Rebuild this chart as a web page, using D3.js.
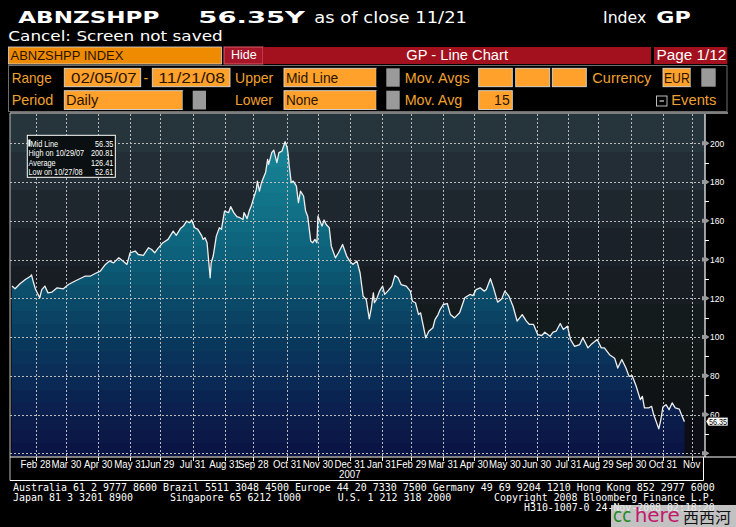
<!DOCTYPE html>
<html><head><meta charset="utf-8">
<script src="https://cdn.jsdelivr.net/npm/d3@7"></script>
<style>html,body{margin:0;padding:0;background:#000;}svg{display:block;}</style>
</head><body>
<svg id="c" width="736" height="527"></svg>
<script>
// ---------------- DATA ----------------
const dates = ["2007-02-05","2007-02-08","2007-02-13","2007-02-18","2007-02-23","2007-02-24","2007-02-26","2007-02-28","2007-03-04","2007-03-06","2007-03-09","2007-03-12","2007-03-16","2007-03-21","2007-03-27","2007-04-01","2007-04-07","2007-04-12","2007-04-17","2007-04-22","2007-04-27","2007-05-02","2007-05-07","2007-05-11","2007-05-15","2007-05-20","2007-05-24","2007-05-28","2007-05-31","2007-06-05","2007-06-08","2007-06-13","2007-06-18","2007-06-21","2007-06-24","2007-06-27","2007-07-02","2007-07-07","2007-07-12","2007-07-15","2007-07-19","2007-07-22","2007-07-25","2007-07-28","2007-07-30","2007-08-02","2007-08-05","2007-08-09","2007-08-10","2007-08-12","2007-08-14","2007-08-17","2007-08-18","2007-08-20","2007-08-23","2007-08-26","2007-08-28","2007-08-31","2007-09-04","2007-09-06","2007-09-09","2007-09-12","2007-09-15","2007-09-18","2007-09-19","2007-09-22","2007-09-24","2007-09-26","2007-09-28","2007-10-01","2007-10-02","2007-10-04","2007-10-06","2007-10-08","2007-10-10","2007-10-12","2007-10-13","2007-10-16","2007-10-18","2007-10-21","2007-10-23","2007-10-26","2007-10-29","2007-10-31","2007-11-01","2007-11-02","2007-11-04","2007-11-06","2007-11-09","2007-11-11","2007-11-13","2007-11-16","2007-11-18","2007-11-20","2007-11-23","2007-11-25","2007-11-27","2007-11-29","2007-11-30","2007-12-04","2007-12-06","2007-12-08","2007-12-11","2007-12-13","2007-12-17","2007-12-20","2007-12-24","2007-12-28","2007-12-31","2008-01-03","2008-01-07","2008-01-10","2008-01-13","2008-01-16","2008-01-19","2008-01-21","2008-01-23","2008-01-24","2008-01-26","2008-01-29","2008-02-01","2008-02-03","2008-02-06","2008-02-10","2008-02-13","2008-02-16","2008-02-19","2008-02-24","2008-02-28","2008-03-01","2008-03-04","2008-03-07","2008-03-09","2008-03-11","2008-03-14","2008-03-17","2008-03-21","2008-03-23","2008-03-26","2008-03-28","2008-03-31","2008-04-04","2008-04-07","2008-04-11","2008-04-16","2008-04-21","2008-04-26","2008-04-29","2008-05-02","2008-05-06","2008-05-10","2008-05-12","2008-05-16","2008-05-19","2008-05-23","2008-05-27","2008-05-30","2008-06-03","2008-06-07","2008-06-11","2008-06-16","2008-06-20","2008-06-23","2008-06-27","2008-07-01","2008-07-05","2008-07-08","2008-07-13","2008-07-16","2008-07-19","2008-07-23","2008-07-26","2008-07-30","2008-08-02","2008-08-06","2008-08-11","2008-08-14","2008-08-19","2008-08-22","2008-08-28","2008-09-01","2008-09-04","2008-09-09","2008-09-14","2008-09-17","2008-09-21","2008-09-25","2008-09-28","2008-10-01","2008-10-05","2008-10-09","2008-10-11","2008-10-13","2008-10-17","2008-10-20","2008-10-22","2008-10-27","2008-10-29","2008-10-31","2008-11-03","2008-11-06","2008-11-09","2008-11-12","2008-11-16","2008-11-18","2008-11-21"];
const values = [126.3,124.9,127.6,129.7,131.4,132.1,128.0,124.5,120.3,124.5,126.3,122.8,123.2,125.4,124.9,127.1,128.8,130.1,131.4,131.4,132.8,134.0,137.5,139.2,138.3,140.9,139.2,137.5,143.5,144.4,142.6,142.1,146.1,145.2,143.5,145.6,148.7,150.4,154.7,152.5,156.0,157.3,159.8,159.0,160.4,156.4,155.6,152.1,150.4,151.3,148.7,130.6,138.3,141.8,152.1,156.4,155.6,165.0,164.2,167.3,164.2,162.1,161.6,160.7,164.2,161.1,165.0,167.6,171.1,176.2,180.5,175.3,179.7,182.3,184.9,191.7,189.1,195.2,196.5,190.0,195.2,196.0,200.81,197.8,194.3,188.3,179.7,180.5,177.9,169.4,175.3,172.8,165.0,162.4,149.5,148.7,150.4,148.7,162.4,157.3,160.4,158.1,156.4,146.9,140.9,143.5,147.8,141.8,139.2,137.5,139.2,133.2,121.1,119.4,109.4,115.1,122.8,117.7,119.4,123.7,126.3,122.0,123.7,126.3,131.8,130.6,127.1,126.3,123.7,118.5,117.7,111.6,112.5,107.3,99.6,103.0,104.8,109.0,111.6,114.2,116.8,117.3,111.6,109.9,112.5,120.3,122.0,121.4,124.5,125.4,123.7,124.5,130.1,125.4,118.0,119.7,123.7,121.1,115.9,108.2,111.6,108.2,106.5,106.5,101.3,100.8,102.5,100.4,102.5,103.0,107.0,103.9,105.6,98.7,95.2,96.1,99.6,94.4,96.1,98.7,94.4,94.4,90.9,89.1,84.0,88.4,84.0,79.7,80.1,74.6,67.7,69.4,63.4,63.4,64.2,60.0,52.61,57.4,63.9,65.1,62.5,66.0,63.4,62.8,60.0,56.35];

const xTickDates = ["2007-02-28","2007-03-30","2007-04-30","2007-05-31","2007-06-29","2007-07-31","2007-08-31","2007-09-28","2007-10-31","2007-11-30","2007-12-31","2008-01-31","2008-02-29","2008-03-31","2008-04-30","2008-05-30","2008-06-30","2008-07-31","2008-08-29","2008-09-30","2008-10-31","2008-11-28"];
const xTickLabels = ["Feb 28","Mar 30","Apr 30","May 31","Jun 29","Jul 31","Aug 31","Sep 28","Oct 31","Nov 30","Dec 31","Jan 31","Feb 29","Mar 31","Apr 30","May 30","Jun 30","Jul 31","Aug 29","Sep 30","Oct 31","Nov"];
const yearLabelDate = "2007-12-31";
const yearLabel = "2007";
const yGridValues = [40,60,80,100,120,140,160,180,200];
const yLabelValues = [60,80,100,120,140,160,180,200];
const yMinorValues = [50,70,90,110,130,150,170,190];
const statNames = ["Mid Line","High on 10/29/07","Average","Low on 10/27/08"];
const statValues = ["56.35","200.81","126.41","52.61"];
const lastValue = "56.35";

// ---------------- SETUP ----------------
const svg = d3.select("#c");
const parse = d3.timeParse("%Y-%m-%d");
const data = dates.map((d,i)=>({date:parse(d), value:values[i]}));
const PL=10, PR=705, PT=114, PB=456;
const xs = d3.scaleTime().domain([parse("2007-02-05"), parse("2008-12-11")]).range([12, PR]);
const ys = d3.scaleLinear().domain([40,200]).range([453.3,143.3]);

svg.append("rect").attr("width",736).attr("height",527).attr("fill","#000");
const defs = svg.append("defs");
function bandGradient(id, colors, y0, y1, n){
  const g = defs.append("linearGradient").attr("id",id).attr("gradientUnits","userSpaceOnUse")
    .attr("x1",0).attr("x2",0).attr("y1",y0).attr("y2",y1);
  const it = d3.interpolateRgbBasis(colors);
  for(let i=0;i<n;i++){
    const c = it((i+0.5)/n);
    g.append("stop").attr("offset",i/n).attr("stop-color",c);
    g.append("stop").attr("offset",(i+1)/n).attr("stop-color",c);
  }
}
bandGradient("bg", ["#28373f","#222e37","#1e252d","#1a1f27","#141b1e","#121917","#0f1115","#0b0b15"], PT, PB, 9);
bandGradient("fillg", ["#1d8ea2","#188295","#13778b","#0f6b81","#0c5b76","#0a4968","#09395d","#0a2a55","#0b1d4c","#0b1343"], PT, PB, 26);

function txt(g, s, tx, ty, o={}){
  const t = g.append("text").attr("x",tx).attr("y",ty).text(s)
    .attr("font-family", o.family||"'Liberation Sans', Arial, sans-serif")
    .attr("font-size", o.size||12).attr("fill", o.fill||"#fff");
  if(o.weight) t.attr("font-weight",o.weight);
  if(o.w) t.attr("textLength",o.w).attr("lengthAdjust","spacingAndGlyphs");
  if(o.anchor) t.attr("text-anchor",o.anchor);
  return t;
}

// ---------------- HEADER ----------------
const hd = svg.append("g");
txt(hd,"ABNZSHPP",18.3,22.7,{family:"'DejaVu Sans',sans-serif",size:16,weight:"bold",w:141});
txt(hd,"56.35Y",198.3,22.7,{family:"'DejaVu Sans',sans-serif",size:16,weight:"bold",w:106.7});
txt(hd,"as of close 11/21",314.3,22.7,{family:"'DejaVu Sans',sans-serif",size:15,w:152.7});
txt(hd,"Index",603,22.7,{family:"'DejaVu Sans',sans-serif",size:15,w:43.3});
txt(hd,"GP",656.3,22.7,{family:"'DejaVu Sans',sans-serif",size:16,weight:"bold",w:34.4});
txt(hd,"Cancel: Screen not saved",8.3,40.5,{family:"'DejaVu Sans',sans-serif",size:14.5,w:214.4});

hd.append("rect").attr("x",8.5).attr("y",47).attr("width",213).attr("height",17).attr("fill","#ef8b00").attr("stroke","#d9d9d9").attr("stroke-width",0.8);
txt(hd,"ABNZSHPP INDEX",10.5,60,{size:13,fill:"#2a1400",w:112.8});
hd.append("rect").attr("x",224).attr("y",47).attr("width",39).attr("height",17).attr("fill","#a51629").attr("stroke","#e05a68").attr("stroke-width",1);
txt(hd,"Hide",231,58.5,{size:13,fill:"#fff",w:25.7});
hd.append("rect").attr("x",263).attr("y",47).attr("width",388).attr("height",17).attr("fill","#a3111f");
txt(hd,"GP - Line Chart",406.3,60,{size:14,fill:"#fff",w:101.7});
hd.append("rect").attr("x",654).attr("y",47).attr("width",73.3).attr("height",17).attr("fill","#a3111f");
txt(hd,"Page 1/12",656.5,60,{size:14,fill:"#fff",w:69.8});

hd.append("rect").attr("x",8.5).attr("y",65.5).attr("width",718.5).attr("height",46).attr("fill","#000").attr("stroke","#6e6e6e").attr("stroke-width",1);
const OR="#f0a030", BOX="#ffa12a", DK="#2a1400";
function box(x0,x1,y0,y1){ hd.append("rect").attr("x",x0).attr("y",y0).attr("width",x1-x0).attr("height",y1-y0).attr("fill",BOX).attr("stroke","#d8d8d8").attr("stroke-width",0.9); }
function drop(x0,x1,x2,x3,y0,y1){
  box(x0,x1,y0,y1);
  hd.append("rect").attr("x",x1).attr("y",y0).attr("width",x2-x1).attr("height",y1-y0).attr("fill","#000");
  hd.append("rect").attr("x",x2).attr("y",y0).attr("width",x3-x2).attr("height",y1-y0).attr("fill","#9a9a9a");
}
const r4a=68.3, r4b=86.7, r5a=90.7, r5b=109.5;
txt(hd,"Range",11.7,83.3,{size:15,fill:OR,w:40});
box(64.3,140.7,r4a,r4b); txt(hd,"02/05/07",71,82.7,{size:14,fill:DK,w:65.7});
txt(hd,"-",143.5,82.7,{size:14,fill:OR});
box(152.3,230,r4a,r4b); txt(hd,"11/21/08",158.3,82.7,{size:14,fill:DK,w:66.7});
txt(hd,"Upper",235,83.3,{size:15,fill:OR,w:38.3});
drop(284,376.3,386.3,399.7,r4a,r4b); txt(hd,"Mid Line",286,82.7,{size:14,fill:DK,w:52.3});
txt(hd,"Mov. Avgs",404.7,83.3,{size:15,fill:OR,w:65});
box(478.7,512.3,r4a,r4b); box(515.7,549.7,r4a,r4b); box(552.3,586.3,r4a,r4b);
txt(hd,"Currency",592.3,83.3,{size:15,fill:OR,w:59});
drop(663,690.7,701.3,715.7,r4a,r4b); txt(hd,"EUR",664,82.7,{size:14,fill:DK,w:25.7});

txt(hd,"Period",11.7,105.3,{size:15,fill:OR,w:41.6});
drop(64.3,182.7,192.7,206,r5a,r5b); txt(hd,"Daily",66,105,{size:14,fill:DK,w:32.3});
txt(hd,"Lower",235,105.3,{size:15,fill:OR,w:38});
drop(284,376.3,386.3,399.7,r5a,r5b); txt(hd,"None",286,105,{size:14,fill:DK,w:32.3});
txt(hd,"Mov. Avg",404.7,105.3,{size:15,fill:OR,w:57.6});
box(478.7,512.3,r5a,r5b); txt(hd,"15",509.7,105,{size:14,fill:DK,anchor:"end"});
hd.append("rect").attr("x",656.5).attr("y",96).attr("width",10.5).attr("height",10).attr("fill","#000").attr("stroke","#cfcfcf").attr("stroke-width",0.9);
hd.append("line").attr("x1",659.5).attr("x2",664).attr("y1",101).attr("y2",101).attr("stroke","#fff").attr("stroke-width",1);
txt(hd,"Events",671.3,105.3,{size:15,fill:OR,w:45});

// ---------------- CHART ----------------
const ch = svg.append("g");
ch.append("rect").attr("x",PL).attr("y",PT).attr("width",PR-PL).attr("height",PB-PT).attr("fill","url(#bg)");
const areaGen = d3.area().x(d=>xs(d.date)).y0(PB).y1(d=>ys(d.value));
const lineGen = d3.line().x(d=>xs(d.date)).y(d=>ys(d.value));
ch.append("path").datum(data).attr("d",areaGen).attr("fill","url(#fillg)");

// grid lines as one path each direction
const hPath = yGridValues.map(v=>{const yy=Math.round(ys(v))+0.5; return "M"+PL+","+yy+"H"+PR;}).join("");
const vPath = xTickDates.map(d=>{const xx=Math.round(xs(parse(d)))+0.5; return "M"+xx+","+PT+"V"+PB;}).join("");
ch.append("path").attr("d",hPath+vPath).attr("fill","none").attr("stroke","#bcbcbc").attr("stroke-width",1).attr("stroke-dasharray","2,2");

ch.append("path").datum(data).attr("d",lineGen).attr("fill","none").attr("stroke","#efefef").attr("stroke-width",1.3).attr("stroke-linejoin","round");

// frame
ch.append("line").attr("x1",PL).attr("x2",728).attr("y1",113).attr("y2",113).attr("stroke","#a8a8a8").attr("stroke-width",1.5);
ch.append("line").attr("x1",PL).attr("x2",PL).attr("y1",113).attr("y2",480.5).attr("stroke","#bdbdbd").attr("stroke-width",1);
ch.append("line").attr("x1",PR).attr("x2",PR).attr("y1",PT).attr("y2",PB+1).attr("stroke","#ffffff").attr("stroke-width",1.2);
ch.append("line").attr("x1",PL).attr("x2",736).attr("y1",PB+1).attr("y2",PB+1).attr("stroke","#ffffff").attr("stroke-width",1.2);
ch.append("line").attr("x1",PL).attr("x2",703.5).attr("y1",480.5).attr("y2",480.5).attr("stroke","#ffffff").attr("stroke-width",1);
ch.append("line").attr("x1",703.5).attr("x2",703.5).attr("y1",PB+1).attr("y2",480.5).attr("stroke","#ffffff").attr("stroke-width",1);

// right axis
const ax = ch.append("g");
const mkPath = yGridValues.map(v=>{const yy=ys(v); return `M702,${yy-2}L706.5,${yy-2}L709.5,${yy}L706.5,${yy+2}L702,${yy+2}Z`;}).join("");
ax.append("path").attr("d",mkPath).attr("fill","#9a9a9a");
const mnPath = yMinorValues.map(v=>{const yy=Math.round(ys(v))+0.5; return "M"+PR+","+yy+"h4";}).join("");
ax.append("path").attr("d",mnPath).attr("stroke","#fff").attr("stroke-width",1).attr("fill","none");
const yAxis = d3.axisRight(ys).tickValues(yLabelValues).tickSize(0).tickPadding(5).tickFormat(d3.format("d"));
const yg = ax.append("g").attr("transform",`translate(${PR},0)`).call(yAxis);
yg.select(".domain").remove();
yg.selectAll("text").attr("fill","#fff").attr("font-family","'Liberation Sans',Arial,sans-serif").attr("font-size",8.5).attr("dy","0.34em");

// x axis labels + ticks
const xl = ch.append("g");
const tkPath = xTickDates.map(d=>{const xx=Math.round(xs(parse(d)))+0.5; return "M"+xx+","+(PB+1)+"v4";}).join("");
xl.append("path").attr("d",tkPath).attr("stroke","#fff").attr("stroke-width",1).attr("fill","none");
xTickDates.forEach((d,i)=>{
  xl.append("text").attr("transform",`translate(${xs(parse(d))},468.3) scale(0.84,1)`)
    .attr("text-anchor","middle").attr("font-family","'Liberation Sans',Arial,sans-serif").attr("font-size",11.5).attr("fill","#fff")
    .text(xTickLabels[i]);
});
xl.append("text").attr("transform",`translate(${xs(parse(yearLabelDate))},478.3) scale(0.84,1)`)
  .attr("text-anchor","middle").attr("font-family","'Liberation Sans',Arial,sans-serif").attr("font-size",11.5).attr("fill","#fff").text(yearLabel);

// last value tag
const lv = ys(values[values.length-1]);
ax.append("path").attr("d",`M706,${lv}L708.5,${lv-4.3}L728,${lv-4.3}L728,${lv+4.3}L708.5,${lv+4.3}Z`).attr("fill","#fff").attr("stroke","#000").attr("stroke-width",0.6);
ax.append("text").attr("transform",`translate(718,${lv+3}) scale(0.85,1)`).attr("text-anchor","middle")
  .attr("font-family","'Liberation Sans',Arial,sans-serif").attr("font-size",8.5).attr("fill","#000").text(lastValue);

// stats box
const sb = ch.append("g");
sb.append("rect").attr("x",27.3).attr("y",135.3).attr("width",88).attr("height",42).attr("fill","#0a0f11").attr("stroke","#fff").attr("stroke-width",1);
sb.append("rect").attr("x",28.3).attr("y",139.5).attr("width",2.2).attr("height",7).attr("fill","#fff");
const rowsY=[146.5,156,165.7,175];
statNames.forEach((s,i)=>{
  sb.append("text").attr("transform",`translate(${i===0?30.5:28.5},${rowsY[i]}) scale(0.77,1)`).attr("font-family","'Liberation Sans',Arial,sans-serif").attr("font-size",9.5).attr("fill","#fff").text(s);
  sb.append("text").attr("transform",`translate(113.3,${rowsY[i]}) scale(0.77,1)`).attr("text-anchor","end").attr("font-family","'Liberation Sans',Arial,sans-serif").attr("font-size",9.5).attr("fill","#fff").text(statValues[i]);
});

// ---------------- FOOTER ----------------
const ft = svg.append("g");
const MONO="'DejaVu Sans Mono',monospace";
txt(ft,"Australia 61 2 9777 8600 Brazil 5511 3048 4500 Europe 44 20 7330 7500 Germany 49 69 9204 1210 Hong Kong 852 2977 6000",13,491.3,{family:MONO,size:10,w:701.7});
txt(ft,"Japan 81 3 3201 8900",13,501.3,{family:MONO,size:10,w:120});
txt(ft,"Singapore 65 6212 1000",170,501.3,{family:MONO,size:10,w:131});
txt(ft,"U.S. 1 212 318 2000",337.7,501.3,{family:MONO,size:10,w:113.6});
txt(ft,"Copyright 2008 Bloomberg Finance L.P.",494,501.3,{family:MONO,size:10,w:220.7});
txt(ft,"H310-1007-0 24-Nov-2008 02:18:20",524,510.8,{family:MONO,size:10,w:190.7});

ft.append("rect").attr("x",611).attr("y",505).attr("width",125).attr("height",22).attr("fill","#e4e4e4").attr("opacity",0.85);
txt(ft,"cc",613,521.7,{family:"'DejaVu Sans',sans-serif",size:19,fill:"#1e8a1e",w:18.3});
txt(ft,"here",634.7,521.7,{family:"'DejaVu Sans',sans-serif",size:19,fill:"#c2186c",w:45});
txt(ft,"西西河",683,522.5,{family:"'Noto Sans CJK SC',sans-serif",size:15,fill:"#111",w:48});
</script>
</body></html>
